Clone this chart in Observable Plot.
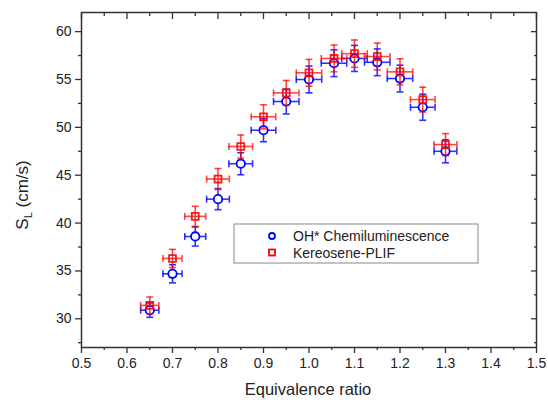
<!DOCTYPE html>
<html>
<head>
<meta charset="utf-8">
<script src="https://cdn.jsdelivr.net/npm/d3@7"></script>
<script src="https://cdn.jsdelivr.net/npm/@observablehq/plot@0.6"></script>
<style>
  html, body { margin: 0; padding: 0; background: #fff; }
  #chart svg { display: block; font-family: "Liberation Sans", Arial, sans-serif; }
</style>
</head>
<body>
<div id="chart"></div>
<script>
// ---- data ----
const phi      = [0.65, 0.70, 0.75, 0.80, 0.85, 0.90, 0.95, 1.00, 1.055, 1.10, 1.15, 1.20, 1.25, 1.30];
const phiErr   = [0.020, 0.021, 0.023, 0.025, 0.026, 0.027, 0.028, 0.028, 0.028, 0.028, 0.028, 0.028, 0.027, 0.025];
const ohSL     = [30.9, 34.7, 38.6, 42.5, 46.2, 49.7, 52.7, 55.0, 56.7, 57.2, 56.8, 55.1, 52.1, 47.5];
const ohErr    = [0.75, 0.95, 1.00, 1.10, 1.15, 1.20, 1.30, 1.40, 1.40, 1.36, 1.40, 1.40, 1.36, 1.20];
const plifSL   = [31.4, 36.3, 40.7, 44.6, 48.0, 51.1, 53.6, 55.7, 57.2, 57.7, 57.4, 55.8, 52.9, 48.2];
const plifErr  = [0.87, 0.95, 1.05, 1.10, 1.20, 1.25, 1.30, 1.40, 1.40, 1.43, 1.40, 1.36, 1.30, 1.15];
const seriesNames = ["OH* Chemiluminescence", "Kereosene-PLIF"];
const xMajor = [0.5, 0.6, 0.7, 0.8, 0.9, 1.0, 1.1, 1.2, 1.3, 1.4, 1.5];
const xMinor = [0.55, 0.65, 0.75, 0.85, 0.95, 1.05, 1.15, 1.25, 1.35, 1.45];
const yMajor = [30, 35, 40, 45, 50, 55, 60];
const yMinor = [27.5, 32.5, 37.5, 42.5, 47.5, 52.5, 57.5];

const oh = phi.map((x, i) => ({x, ex: phiErr[i], y: ohSL[i], ey: ohErr[i]}));
const plif = phi.map((x, i) => ({x, ex: phiErr[i], y: plifSL[i], ey: plifErr[i]}));

// custom cap symbols
const hCap = {draw(ctx, size) { const r = Math.sqrt(size / Math.PI); ctx.moveTo(-r, 0); ctx.lineTo(r, 0); }};
const vCap = {draw(ctx, size) { const r = Math.sqrt(size / Math.PI); ctx.moveTo(0, -r); ctx.lineTo(0, r); }};

function errorMarks(data, color, opacity) {
  const common = {stroke: color, strokeOpacity: opacity, strokeWidth: 1.6};
  return [
    Plot.ruleX(data, {x: "x", y1: d => d.y - d.ey, y2: d => d.y + d.ey, ...common}),
    Plot.ruleY(data, {y: "y", x1: d => d.x - d.ex, x2: d => d.x + d.ex, ...common}),
    Plot.dot(data, {x: "x", y: d => d.y + d.ey, symbol: hCap, r: 3.5, ...common}),
    Plot.dot(data, {x: "x", y: d => d.y - d.ey, symbol: hCap, r: 3.5, ...common}),
    Plot.dot(data, {x: d => d.x + d.ex, y: "y", symbol: vCap, r: 3.5, ...common}),
    Plot.dot(data, {x: d => d.x - d.ex, y: "y", symbol: vCap, r: 3.5, ...common})
  ];
}

const axisStyle = {stroke: "#333", strokeWidth: 1.3};
const chart = Plot.plot({
  width: 548,
  height: 400,
  marginLeft: 81,
  marginRight: 12,
  marginTop: 12,
  marginBottom: 53,
  style: {fontFamily: "'Liberation Sans', Arial, sans-serif", fontSize: "14px", color: "#222", background: "#fff"},
  x: {domain: [0.5, 1.5]},
  y: {domain: [27, 62]},
  marks: [
    Plot.frame({stroke: "#333", strokeWidth: 1.5}),
    // bottom / left major + minor (outward)
    Plot.axisX(xMajor, {anchor: "bottom", tickSize: 6, tickPadding: 5, tickFormat: d3.format(".1f"), label: null, fontSize: 14, ...axisStyle}),
    Plot.axisX(xMinor, {anchor: "bottom", tickSize: 3, tickFormat: () => "", label: null, ...axisStyle}),
    Plot.axisY(yMajor, {anchor: "left", tickSize: 6, tickPadding: 4, label: null, fontSize: 14, ...axisStyle}),
    Plot.axisY(yMinor, {anchor: "left", tickSize: 3, tickFormat: () => "", label: null, ...axisStyle}),
    // top / right mirrored ticks (inward)
    Plot.axisX(xMajor, {anchor: "top", tickSize: 6, dy: 6, tickFormat: () => "", label: null, ...axisStyle}),
    Plot.axisX(xMinor, {anchor: "top", tickSize: 3, dy: 3, tickFormat: () => "", label: null, ...axisStyle}),
    Plot.axisY(yMajor, {anchor: "right", tickSize: 6, dx: -6, tickFormat: () => "", label: null, ...axisStyle}),
    Plot.axisY(yMinor, {anchor: "right", tickSize: 3, dx: -3, tickFormat: () => "", label: null, ...axisStyle}),
    // OH* series
    ...errorMarks(oh, "#0000ff", 0.8),
    Plot.dot(oh, {x: "x", y: "y", symbol: "circle", r: 4.2, stroke: "#0000ff", strokeWidth: 1.8, fill: "white"}),
    // PLIF series
    ...errorMarks(plif, "#ff0000", 0.72),
    Plot.dot(plif, {x: "x", y: "y", symbol: "square", r: 3.9, stroke: "#ff0000", strokeOpacity: 0.9, strokeWidth: 1.8, fill: "none"})
  ]
});

const svg = d3.select(chart);
// axis titles
svg.append("text")
  .attr("x", 308).attr("y", 395)
  .attr("text-anchor", "middle")
  .attr("font-size", 16.5).attr("fill", "#222")
  .text("Equivalence ratio");
const yl = svg.append("text")
  .attr("transform", "translate(28,195) rotate(-90)")
  .attr("text-anchor", "middle")
  .attr("font-size", 17).attr("fill", "#222");
yl.append("tspan").text("S");
yl.append("tspan").attr("font-size", 11).attr("dy", 4).text("L");
yl.append("tspan").attr("dy", -4).text(" (cm/s)");

// legend
const lg = svg.append("g").attr("text-anchor", "start");
lg.append("rect").attr("x", 234).attr("y", 224).attr("width", 244).attr("height", 39)
  .attr("fill", "white").attr("stroke", "#888").attr("stroke-width", 1);
lg.append("circle").attr("cx", 272).attr("cy", 236).attr("r", 3)
  .attr("fill", "white").attr("stroke", "#0000ff").attr("stroke-width", 1.8);
lg.append("rect").attr("x", 269).attr("y", 249.5).attr("width", 6).attr("height", 6)
  .attr("fill", "none").attr("stroke", "#ff0000").attr("stroke-width", 1.8);
lg.append("text").attr("x", 293).attr("y", 241).attr("text-anchor", "start").attr("font-size", 14).attr("fill", "#222").text(seriesNames[0]);
lg.append("text").attr("x", 293).attr("y", 258).attr("text-anchor", "start").attr("font-size", 14).attr("fill", "#222").text(seriesNames[1]);

document.getElementById("chart").appendChild(chart);
</script>
</body>
</html>
